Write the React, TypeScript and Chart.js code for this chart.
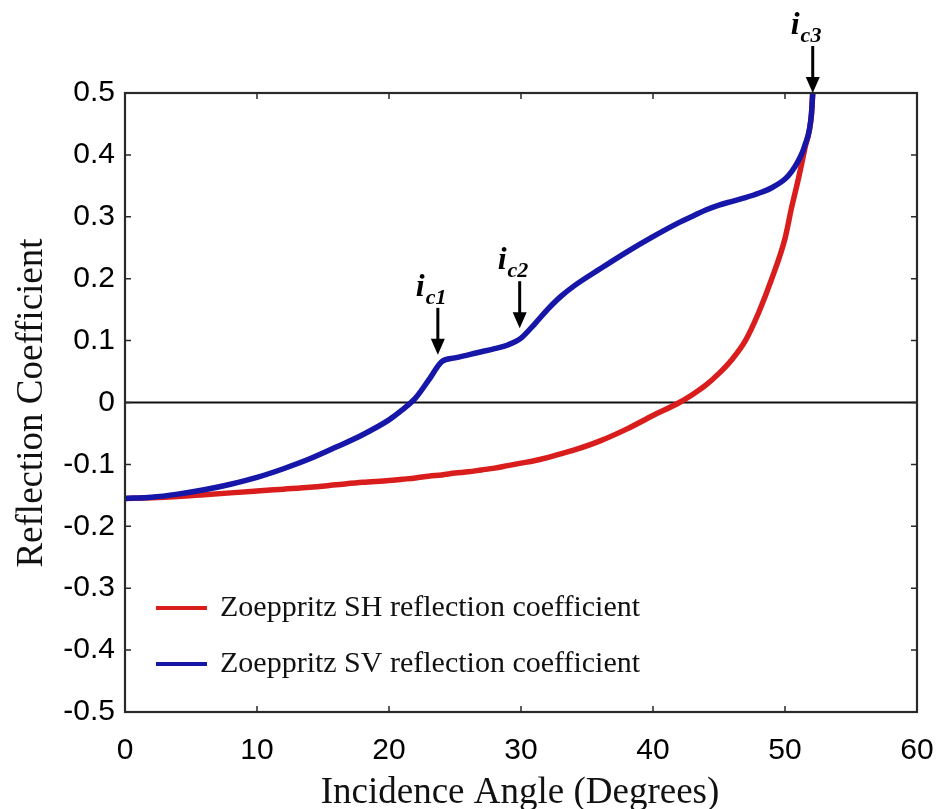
import React, { useEffect, useRef } from 'react';
import { Chart, registerables } from 'chart.js';

Chart.register(...registerables);

// Incidence angles (degrees) shared by both curves
const incidenceAngles = [
  0, 2, 4, 6, 8, 10, 12, 14, 16, 18, 20, 21, 22, 23, 24, 25, 26, 27, 28, 29, 30,
  31, 32, 33, 34, 36, 38, 40, 42, 43, 44, 45, 46, 47, 48, 49, 50, 50.5, 51, 51.5, 52, 52.1,
];

// SH-wave reflection coefficient
const shCoefficient = [
  -0.155, -0.154, -0.152, -0.149, -0.146, -0.143, -0.14, -0.137, -0.133, -0.129, -0.126,
  -0.124, -0.122, -0.119, -0.117, -0.114, -0.112, -0.109, -0.106, -0.102, -0.098,
  -0.094, -0.089, -0.083, -0.077, -0.062, -0.043, -0.021, 0.0, 0.013, 0.028, 0.047, 0.07,
  0.1, 0.145, 0.2, 0.265, 0.315, 0.36, 0.41, 0.465, 0.5,
];

// SV-wave reflection coefficient
const svCoefficient = [
  -0.155, -0.153, -0.148, -0.141, -0.132, -0.121, -0.107, -0.091, -0.072, -0.052, -0.028,
  -0.012, 0.007, 0.036, 0.066, 0.072, 0.077, 0.082, 0.087, 0.093, 0.104,
  0.126, 0.15, 0.171, 0.188, 0.216, 0.243, 0.268, 0.291, 0.301, 0.311, 0.319, 0.325,
  0.331, 0.338, 0.347, 0.361, 0.373, 0.39, 0.415, 0.465, 0.5,
];

const seriesLabels = [
  'Zoeppritz SH reflection coefficient',
  'Zoeppritz SV reflection coefficient',
];
const seriesColors = ['#d91c1c', '#1616a8'];

// Critical angles marked with arrows
const criticalNames = ['c1', 'c2', 'c3'];
const criticalAngles = [23.7, 29.9, 52.1];
const criticalTipValues = [0.077, 0.12, 0.5];

const xTitle = 'Incidence Angle (Degrees)';
const yTitle = 'Reflection Coefficient';

const X_MIN = 0;
const X_MAX = 60;
const Y_MIN = -0.5;
const Y_MAX = 0.5;

const SERIF = '"Liberation Serif", "Times New Roman", serif';
const SANS = '"Liberation Sans", Arial, sans-serif';

const decorPlugin = {
  id: 'decor',
  beforeDatasetsDraw(chart: any) {
    const { ctx, chartArea, scales } = chart;
    const y0 = scales.y.getPixelForValue(0);
    ctx.save();
    ctx.strokeStyle = '#111';
    ctx.lineWidth = 1.8;
    ctx.beginPath();
    ctx.moveTo(chartArea.left, y0);
    ctx.lineTo(chartArea.right, y0);
    ctx.stroke();
    ctx.restore();
  },
  afterDatasetsDraw(chart: any) {
    const { ctx, chartArea, scales } = chart;
    const { left, right, top, bottom } = chartArea;
    const tick = 6;
    ctx.save();
    ctx.strokeStyle = '#2a2a2a';
    ctx.lineWidth = 2.2;
    ctx.strokeRect(left, top, right - left, bottom - top);

    ctx.lineWidth = 1.5;
    ctx.beginPath();
    scales.x.ticks.forEach((t: any) => {
      const px = scales.x.getPixelForValue(t.value);
      ctx.moveTo(px, bottom);
      ctx.lineTo(px, bottom - tick);
      ctx.moveTo(px, top);
      ctx.lineTo(px, top + tick);
    });
    scales.y.ticks.forEach((t: any) => {
      const py = scales.y.getPixelForValue(t.value);
      ctx.moveTo(left, py);
      ctx.lineTo(left + tick, py);
      ctx.moveTo(right, py);
      ctx.lineTo(right - tick, py);
    });
    ctx.stroke();

    // Legend inside the plot area
    chart.data.datasets.forEach((ds: any, i: number) => {
      const ly = bottom - 104 + i * 56;
      ctx.strokeStyle = ds.borderColor;
      ctx.lineWidth = 4;
      ctx.beginPath();
      ctx.moveTo(left + 31, ly);
      ctx.lineTo(left + 82, ly);
      ctx.stroke();
      ctx.fillStyle = '#111';
      ctx.font = `30px ${SERIF}`;
      ctx.textAlign = 'left';
      ctx.textBaseline = 'middle';
      ctx.fillText(ds.label, left + 95, ly);
    });

    // Critical-angle arrows and labels
    criticalNames.forEach((name, i) => {
      const ax = scales.x.getPixelForValue(criticalAngles[i]);
      const tipY = scales.y.getPixelForValue(criticalTipValues[i]);
      const headLen = 16;
      const headHalf = 7;
      ctx.strokeStyle = '#000';
      ctx.fillStyle = '#000';
      ctx.lineWidth = 3;
      ctx.beginPath();
      ctx.moveTo(ax, tipY - 47);
      ctx.lineTo(ax, tipY - headLen + 2);
      ctx.stroke();
      ctx.beginPath();
      ctx.moveTo(ax, tipY);
      ctx.lineTo(ax - headHalf, tipY - headLen);
      ctx.lineTo(ax + headHalf, tipY - headLen);
      ctx.closePath();
      ctx.fill();

      ctx.textAlign = 'left';
      ctx.textBaseline = 'alphabetic';
      ctx.font = `italic bold 32px ${SERIF}`;
      const ix = ax - 22;
      const iy = tipY - 59;
      ctx.fillText('i', ix, iy);
      const iw = ctx.measureText('i').width;
      ctx.font = `italic bold 22px ${SERIF}`;
      ctx.fillText(name, ix + iw + 1, iy + 8);
    });

    ctx.restore();
  },
  afterDraw(chart: any) {
    const { ctx } = chart;
    ctx.save();
    ctx.fillStyle = '#111';
    ctx.font = `37px ${SERIF}`;
    ctx.textAlign = 'center';
    ctx.textBaseline = 'alphabetic';
    ctx.fillText(xTitle, 520, 803);

    ctx.translate(42, 403);
    ctx.rotate(-Math.PI / 2);
    ctx.fillText(yTitle, 0, 0);
    ctx.restore();
  },
};

export default function App() {
  const canvasRef = useRef<HTMLCanvasElement | null>(null);

  useEffect(() => {
    const canvas = canvasRef.current;
    if (!canvas) return;

    const toPoints = (vals: number[]) =>
      incidenceAngles.map((a, i) => ({ x: a, y: vals[i] }));

    const chart = new Chart(canvas, {
      type: 'line',
      data: {
        datasets: [
          {
            label: seriesLabels[0],
            data: toPoints(shCoefficient),
            borderColor: seriesColors[0],
            borderWidth: 5.5,
            pointRadius: 0,
            cubicInterpolationMode: 'monotone',
            order: 1,
          },
          {
            label: seriesLabels[1],
            data: toPoints(svCoefficient),
            borderColor: seriesColors[1],
            borderWidth: 5.5,
            pointRadius: 0,
            cubicInterpolationMode: 'monotone',
            order: 0,
          },
        ],
      },
      options: {
        responsive: false,
        animation: false,
        devicePixelRatio: 1,
        layout: { padding: { top: 93, right: 21, left: 0, bottom: 0 } },
        plugins: {
          legend: { display: false },
          tooltip: { enabled: false },
        },
        scales: {
          x: {
            type: 'linear',
            min: X_MIN,
            max: X_MAX,
            afterFit: (s: any) => {
              s.height = 97;
              s.paddingLeft = 0;
              s.paddingRight = 0;
            },
            grid: { display: false, drawTicks: false },
            border: { display: false },
            ticks: {
              stepSize: 10,
              padding: 21,
              color: '#000',
              font: { family: SANS, size: 30 },
              maxRotation: 0,
            },
          },
          y: {
            type: 'linear',
            min: Y_MIN,
            max: Y_MAX,
            afterFit: (s: any) => {
              s.width = 125;
              s.paddingTop = 0;
              s.paddingBottom = 0;
            },
            grid: { display: false, drawTicks: false },
            border: { display: false },
            ticks: {
              stepSize: 0.1,
              padding: 10,
              color: '#000',
              font: { family: SANS, size: 30 },
              callback: (v: any) => {
                const n = Number(Number(v).toFixed(1));
                return n === 0 ? '0' : String(n);
              },
            },
          },
        },
      },
      plugins: [decorPlugin],
    });

    return () => chart.destroy();
  }, []);

  return (
    <div
      style={{
        position: 'fixed',
        left: 0,
        top: 0,
        width: 938,
        height: 809,
        background: '#fff',
      }}
    >
      <canvas ref={canvasRef} width={938} height={809} />
    </div>
  );
}
